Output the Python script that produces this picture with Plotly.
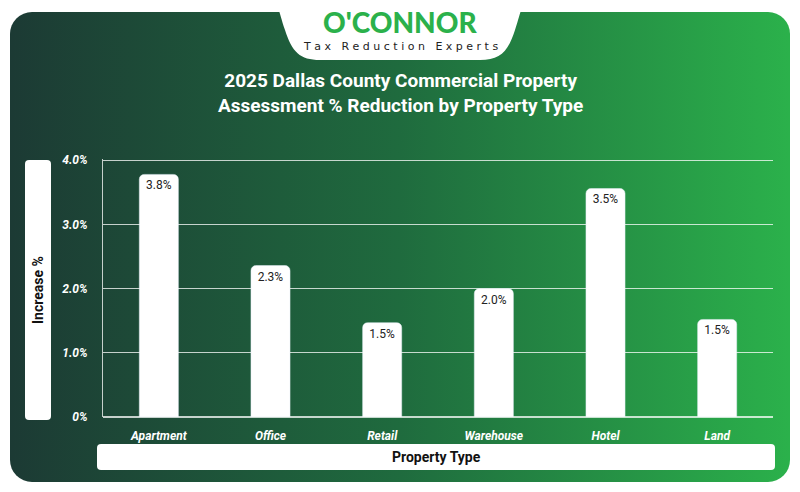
import plotly.graph_objects as go
import base64

categories = ["Apartment", "Office", "Retail", "Warehouse", "Hotel", "Land"]
values = [3.78, 2.36, 1.47, 2.0, 3.56, 1.52]
labels = ["3.8%", "2.3%", "1.5%", "2.0%", "3.5%", "1.5%"]
tick_vals = [0, 1, 2, 3, 4]
tick_text = ["0%", "1.0%", "2.0%", "3.0%", "4.0%"]

W, H = 800, 492
svg = f'''<svg xmlns="http://www.w3.org/2000/svg" width="{W}" height="{H}" viewBox="0 0 {W} {H}">
<defs><linearGradient id="g" x1="0" y1="0" x2="1" y2="0">
<stop offset="0" stop-color="#1c3a34"/><stop offset="0.5" stop-color="#1f6b3e"/><stop offset="1" stop-color="#2bb14b"/></linearGradient></defs>
<rect x="0" y="0" width="{W}" height="{H}" fill="white"/>
<rect x="10" y="12" width="780" height="470" rx="22" fill="url(#g)"/>
<path d="M262,0 L538,0 C520,0 522,10 515,30 C508,52 500,60 480,60 L320,60 C300,60 292,52 285,30 C278,10 280,0 262,0 Z" fill="white"/>
<rect x="25" y="160" width="26" height="260" rx="4" fill="white"/>
<rect x="97" y="444" width="678" height="26" rx="4" fill="white"/>
</svg>'''
src = "data:image/svg+xml;base64," + base64.b64encode(svg.encode()).decode()

fig = go.Figure(go.Bar(
    x=categories, y=values, text=labels, textposition="inside",
    insidetextanchor="end", textangle=0,
    textfont=dict(family="Roboto", size=12, color="#222"),
    marker=dict(color="white", cornerradius=5), width=0.35,
    cliponaxis=False,
))
fig.update_layout(
    width=W, height=H, margin=dict(l=103, r=27, t=159, b=75),
    paper_bgcolor="rgba(0,0,0,0)", plot_bgcolor="rgba(0,0,0,0)",
    showlegend=False,
    font=dict(family="Roboto", color="white"),
    images=[dict(source=src, xref="paper", yref="paper", x=-103/670, y=1+159/258,
                 sizex=W/670, sizey=H/258, xanchor="left", yanchor="top",
                 sizing="stretch", layer="below")],
    xaxis=dict(showgrid=False, tickfont=dict(size=12, family="Roboto", style="italic", weight="bold"),
               ticks="outside", ticklen=8, tickcolor="rgba(0,0,0,0)", showline=False),
    yaxis=dict(range=[0, 4.02], tickvals=tick_vals, ticktext=tick_text, showgrid=True,
               gridcolor="rgba(255,255,255,0.75)", gridwidth=1, zeroline=True,
               zerolinecolor="rgba(255,255,255,0.75)",
               tickfont=dict(size=12, family="Roboto", style="italic", weight="bold"),
               ticks="outside", ticklen=12, tickcolor="rgba(0,0,0,0)",
               showline=True, linecolor="rgba(255,255,255,0.75)", linewidth=1),
    uniformtext=dict(minsize=8, mode="show"),
)

def pann(text, px, py, size, color, weight="bold", rot=0, family="Roboto"):
    xp = (px - 103) / 670
    yp = (417 - py) / 258
    fig.add_annotation(text=text, x=xp, y=yp, xref="paper", yref="paper",
                       xanchor="center", yanchor="middle", showarrow=False, textangle=rot,
                       font=dict(size=size, color=color, family=family, weight=weight))

pann("O'CONNOR", 400, 22, 28, "#2bb14b", weight=900, family="Lato")
pann("T a x   R e d u c t i o n   E x p e r t s", 400, 46, 11, "#222", weight="normal", family="DejaVu Sans")
pann("2025 Dallas County Commercial Property<br>Assessment % Reduction by Property Type", 400, 93, 19, "white")
pann("Increase %", 38, 290, 14, "#111", rot=-90)
pann("Property Type", 436, 457, 14, "#111")
fig.write_html("out.html", config={"displayModeBar": False},
               post_script="document.body.style.margin='0';document.body.style.padding='0';")
